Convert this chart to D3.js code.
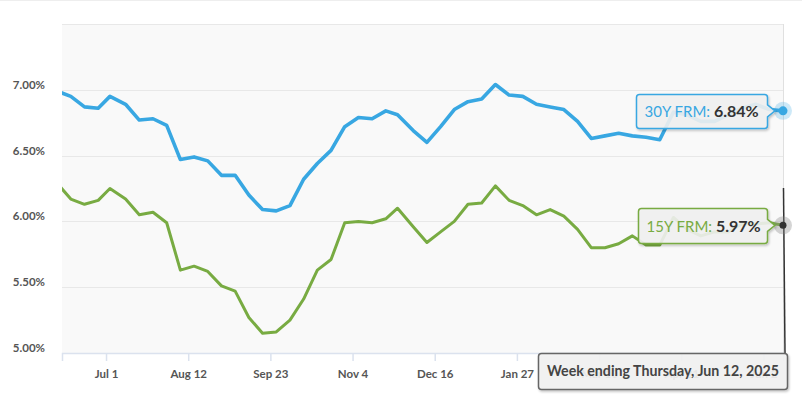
<!DOCTYPE html>
<html>
<head>
<meta charset="utf-8">
<script src="https://cdn.jsdelivr.net/npm/d3@7"></script>
<style>
body { margin: 0; background: #fff; font-family: Lato, "Open Sans", sans-serif; }
</style>
</head>
<body>
<svg id="chart"></svg>
<script>
// weekly Freddie Mac PMMS rates, Thursdays
const weeks = ["2024-06-06","2024-06-13","2024-06-20","2024-06-27","2024-07-03","2024-07-11","2024-07-18","2024-07-25",
    "2024-08-01","2024-08-08","2024-08-15","2024-08-22","2024-08-29","2024-09-05","2024-09-12","2024-09-19","2024-09-26",
    "2024-10-03","2024-10-10","2024-10-17","2024-10-24","2024-10-31","2024-11-07","2024-11-14","2024-11-21","2024-11-27",
    "2024-12-05","2024-12-12","2024-12-19","2024-12-26","2025-01-02","2025-01-09","2025-01-16","2025-01-23","2025-01-30",
    "2025-02-06","2025-02-13","2025-02-20","2025-02-27","2025-03-06","2025-03-13","2025-03-20","2025-03-27","2025-04-03",
    "2025-04-10","2025-04-17","2025-04-24","2025-05-01","2025-05-08","2025-05-15","2025-05-22","2025-05-29","2025-06-05",
    "2025-06-12"];
const frm30 = [6.99,6.95,6.87,6.86,6.95,6.89,6.77,6.78,6.73,6.47,6.49,6.46,6.35,6.35,6.20,6.09,6.08,
    6.12,6.32,6.44,6.54,6.72,6.79,6.78,6.84,6.81,6.69,6.60,6.72,6.85,6.91,6.93,7.04,6.96,6.95,
    6.89,6.87,6.85,6.76,6.63,6.65,6.67,6.65,6.64,6.62,6.83,6.81,6.76,6.76,6.81,6.86,6.89,6.85,6.84];
const frm15 = [6.29,6.17,6.13,6.16,6.25,6.17,6.05,6.07,5.99,5.63,5.66,5.62,5.51,5.47,5.27,5.15,5.16,
    5.25,5.41,5.63,5.71,5.99,6.00,5.99,6.02,6.10,5.96,5.84,5.92,6.00,6.13,6.14,6.27,6.16,6.12,
    6.05,6.09,6.04,5.94,5.80,5.80,5.83,5.89,5.82,5.82,6.03,5.94,5.89,5.92,5.92,5.98,5.98,5.99,5.97];
const tickDates = ["2024-07-01","2024-08-12","2024-09-23","2024-11-04","2024-12-16","2025-01-27","2025-03-10","2025-04-21","2025-06-02"];
const yTicks = [5.0, 5.5, 6.0, 6.5, 7.0, 7.5];
const yLabels = ["5.00%","5.50%","6.00%","6.50%","7.00%"];

const width = 802, height = 394;
const plotLeft = 62, plotRight = 783, plotTop = 24, plotBottom = 353;
const blue = "#38a7e2", green = "#78ab42";

const parse = d3.timeParse("%Y-%m-%d");
const rows = weeks.map((w, i) => ({date: parse(w), r30: frm30[i], r15: frm15[i]}));

const x = d3.scaleTime()
    .domain([new Date(2024, 5, 8, 12), new Date(2025, 5, 12)])
    .range([plotLeft, plotRight]);
const y = d3.scaleLinear().domain([5, 7.5]).range([plotBottom, plotTop]);

const svg = d3.select("#chart").attr("width", width).attr("height", height);

const defs = svg.append("defs");
defs.append("clipPath").attr("id", "plotclip")
    .append("rect").attr("x", plotLeft).attr("y", 0).attr("width", plotRight - plotLeft + 1).attr("height", height);
const shadow = defs.append("filter").attr("id", "shadow").attr("x", "-10%").attr("y", "-20%").attr("width", "130%").attr("height", "160%");
shadow.append("feDropShadow").attr("dx", 1).attr("dy", 1.5).attr("stdDeviation", 1.2)
    .attr("flood-color", "#000").attr("flood-opacity", 0.25);

// top frame line
svg.append("line").attr("x1", 0).attr("x2", width).attr("y1", 0.5).attr("y2", 0.5).attr("stroke", "#eee");

// plot background
svg.append("rect").attr("x", plotLeft).attr("y", plotTop).attr("width", plotRight - plotLeft).attr("height", plotBottom - plotTop)
    .attr("fill", "#f9f9f9");

// grid lines
svg.append("g").selectAll("line").data(yTicks).join("line")
    .attr("x1", plotLeft).attr("x2", plotRight)
    .attr("y1", d => Math.round(y(d)) + 0.5).attr("y2", d => Math.round(y(d)) + 0.5)
    .attr("stroke", "#e8e8e8").attr("stroke-width", 1);

// right edge of plot
svg.append("line").attr("x1", plotRight + 0.5).attr("x2", plotRight + 0.5).attr("y1", plotTop).attr("y2", plotBottom)
    .attr("stroke", "#e0e0e0");

// y labels
svg.append("g").selectAll("text").data(yLabels).join("text")
    .attr("x", 45).attr("y", (d, i) => y(yTicks[i]) - 1)
    .attr("text-anchor", "end")
    .attr("font-size", 11.5).attr("font-weight", 700).attr("fill", "#555")
    .text(d => d);

// x axis
const xAxis = d3.axisBottom(x)
    .tickValues(tickDates.map(parse))
    .tickFormat(d3.timeFormat("%b %-d"))
    .tickSize(8).tickPadding(9);
const gx = svg.append("g").attr("transform", `translate(0,${plotBottom})`).call(xAxis);
gx.select(".domain").attr("stroke", "#dbe2ee").attr("stroke-width", 1.5);
gx.selectAll(".tick line").attr("stroke", "#dbe2ee").attr("stroke-width", 1.5);
gx.selectAll(".tick text").attr("font-family", "Lato, 'Open Sans', sans-serif")
    .attr("font-size", 11.5).attr("font-weight", 700).attr("fill", "#555");

// series lines
const plot = svg.append("g").attr("clip-path", "url(#plotclip)");
const line30 = d3.line().x(d => x(d.date)).y(d => y(d.r30));
const line15 = d3.line().x(d => x(d.date)).y(d => y(d.r15));
plot.append("path").datum(rows).attr("d", line30)
    .attr("fill", "none").attr("stroke", blue).attr("stroke-width", 3.6).attr("stroke-linejoin", "round");
plot.append("path").datum(rows).attr("d", line15)
    .attr("fill", "none").attr("stroke", green).attr("stroke-width", 3).attr("stroke-linejoin", "round");

// hover crosshair
const last = rows[rows.length - 1];
const hx = x(last.date);
svg.append("line").attr("x1", hx + 0.5).attr("x2", hx + 2).attr("y1", 188).attr("y2", plotBottom)
    .attr("stroke", "#333").attr("stroke-width", 1.5);

// hover markers
svg.append("circle").attr("cx", hx).attr("cy", y(last.r30)).attr("r", 9).attr("fill", blue).attr("opacity", 0.25);
svg.append("circle").attr("cx", hx).attr("cy", y(last.r30)).attr("r", 4.5).attr("fill", blue);
svg.append("circle").attr("cx", hx).attr("cy", y(last.r15)).attr("r", 9).attr("fill", "#888").attr("opacity", 0.35);
svg.append("circle").attr("cx", hx).attr("cy", y(last.r15)).attr("r", 3.5).attr("fill", "#333");

// tooltip with pointer on the right side
function boxPath(x0, y0, w, h, tipX, tipY, r) {
    const x1 = x0 + w, y1 = y0 + h;
    return `M${x0 + r},${y0} L${x1 - r},${y0} Q${x1},${y0} ${x1},${y0 + r}` +
        ` L${x1},${tipY - 6} L${tipX},${tipY} L${x1},${tipY + 6}` +
        ` L${x1},${y1 - r} Q${x1},${y1} ${x1 - r},${y1} L${x0 + r},${y1} Q${x0},${y1} ${x0},${y1 - r}` +
        ` L${x0},${y0 + r} Q${x0},${y0} ${x0 + r},${y0} Z`;
}
function seriesTip(x0, y0, w, h, cy, color, name, value) {
    const g = svg.append("g");
    g.append("path").attr("d", boxPath(x0, y0, w, h, hx - 8, cy, 3))
        .attr("fill", "#f3f3f3").attr("fill-opacity", 0.88)
        .attr("stroke", color).attr("stroke-width", 1.5).attr("filter", "url(#shadow)");
    const t = g.append("text").attr("x", x0 + 8).attr("y", y0 + h / 2 + 5.5);
    t.append("tspan").attr("fill", color).attr("font-size", 15).text(name + ": ");
    t.append("tspan").attr("fill", "#333").attr("font-size", 16).attr("font-weight", 700).text(value);
}
seriesTip(636.5, 94.5, 131, 34, y(last.r30), blue, "30Y FRM", d3.format(".2f")(last.r30) + "%");
seriesTip(638.5, 208.5, 129, 35, y(last.r15), green, "15Y FRM", d3.format(".2f")(last.r15) + "%");

// date tooltip
const dg = svg.append("g");
dg.append("rect").attr("x", 538.5).attr("y", 353.5).attr("width", 249).attr("height", 36).attr("rx", 3)
    .attr("fill", "#f3f3f3").attr("fill-opacity", 0.9)
    .attr("stroke", "#666").attr("stroke-width", 1.5).attr("filter", "url(#shadow)");
dg.append("text").attr("x", 547).attr("y", 376).attr("font-size", 14.5).attr("font-weight", 700)
    .attr("fill", "#444").attr("textLength", 232).attr("lengthAdjust", "spacingAndGlyphs")
    .text("Week ending " + d3.timeFormat("%A, %b %-d, %Y")(last.date));
</script>
</body>
</html>
